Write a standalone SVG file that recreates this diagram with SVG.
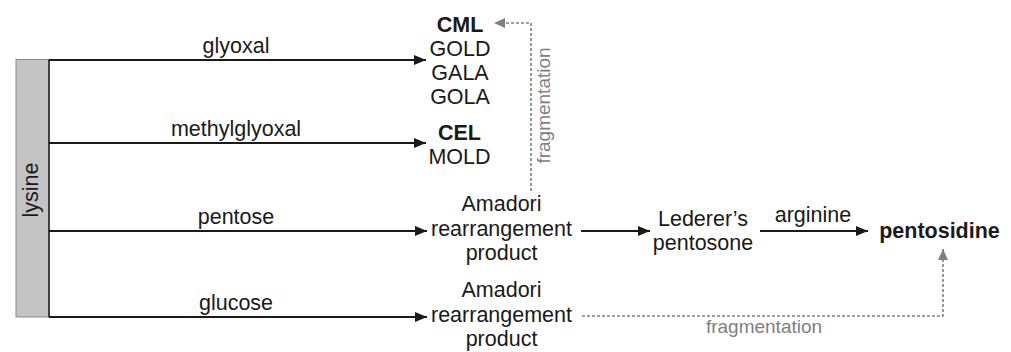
<svg xmlns="http://www.w3.org/2000/svg" width="1011" height="352" viewBox="0 0 1011 352">
<style>
text{font-family:"Liberation Sans",Arial,sans-serif;font-size:21.5px;fill:#1a1a1a;text-anchor:middle}
.b{font-weight:bold}
.g{fill:#808080;font-size:19px}
.arr{stroke:#1a1a1a;stroke-width:1.8;fill:none;marker-end:url(#ah)}
.dash{stroke:#808080;stroke-width:1.6;fill:none;stroke-dasharray:3 2;marker-end:url(#gh)}
</style>
<defs>
<marker id="ah" markerUnits="userSpaceOnUse" markerWidth="12" markerHeight="10" refX="12" refY="5" orient="auto"><path d="M0,0 L12,5 L0,10 z" fill="#1a1a1a"/></marker>
<marker id="gh" markerUnits="userSpaceOnUse" markerWidth="11" markerHeight="10" refX="11" refY="5" orient="auto"><path d="M0,0 L11,5 L0,10 z" fill="#808080"/></marker>
</defs>
<rect width="1011" height="352" fill="#ffffff"/>
<g id="lysine">
<rect x="16" y="59.5" width="33" height="257.5" fill="#c3c3c3" stroke="#8a8a8a" stroke-width="1"/>
<line x1="49" y1="59.5" x2="49" y2="317" stroke="#1a1a1a" stroke-width="1.5"/>
<text x="0" y="0" transform="translate(38,190) rotate(-90)">lysine</text>
</g>
<g id="connectors">
<path class="arr" d="M49,60 H426"/>
<path class="arr" d="M49,143 H426"/>
<path class="arr" d="M49,231 H427"/>
<path class="arr" d="M49,317 H427"/>
<path class="arr" d="M581,231 H650"/>
<path class="arr" d="M760,231 H868"/>
<path class="dash" d="M531,191 V23 H494"/>
<path class="dash" d="M582,316 H943 V249"/>
<text x="236" y="53">glyoxal</text>
<text x="236" y="136">methylglyoxal</text>
<text x="236" y="223.5">pentose</text>
<text x="236" y="309.5">glucose</text>
<text x="813" y="222">arginine</text>
<text class="g" x="764" y="333">fragmentation</text>
<text class="g" x="0" y="0" transform="translate(549.5,105.5) rotate(-90)">fragmentation</text>
</g>
<g id="glyoxal-products">
<text class="b" x="460" y="31.5">CML</text>
<text x="460" y="55.5">GOLD</text>
<text x="460" y="79.5">GALA</text>
<text x="460" y="103.5">GOLA</text>
</g>
<g id="methylglyoxal-products">
<text class="b" x="459.5" y="140">CEL</text>
<text x="459.5" y="164">MOLD</text>
</g>
<g id="amadori-pentose">
<text x="501.5" y="211">Amadori</text>
<text x="501.5" y="235.5">rearrangement</text>
<text x="501.5" y="260">product</text>
</g>
<g id="amadori-glucose">
<text x="501.5" y="297">Amadori</text>
<text x="501.5" y="321.5">rearrangement</text>
<text x="501.5" y="346">product</text>
</g>
<g id="lederers-pentosone">
<text x="703" y="226">Lederer’s</text>
<text x="703" y="250">pentosone</text>
</g>
<g id="pentosidine">
<text class="b" x="939.5" y="237.5">pentosidine</text>
</g>
</svg>
